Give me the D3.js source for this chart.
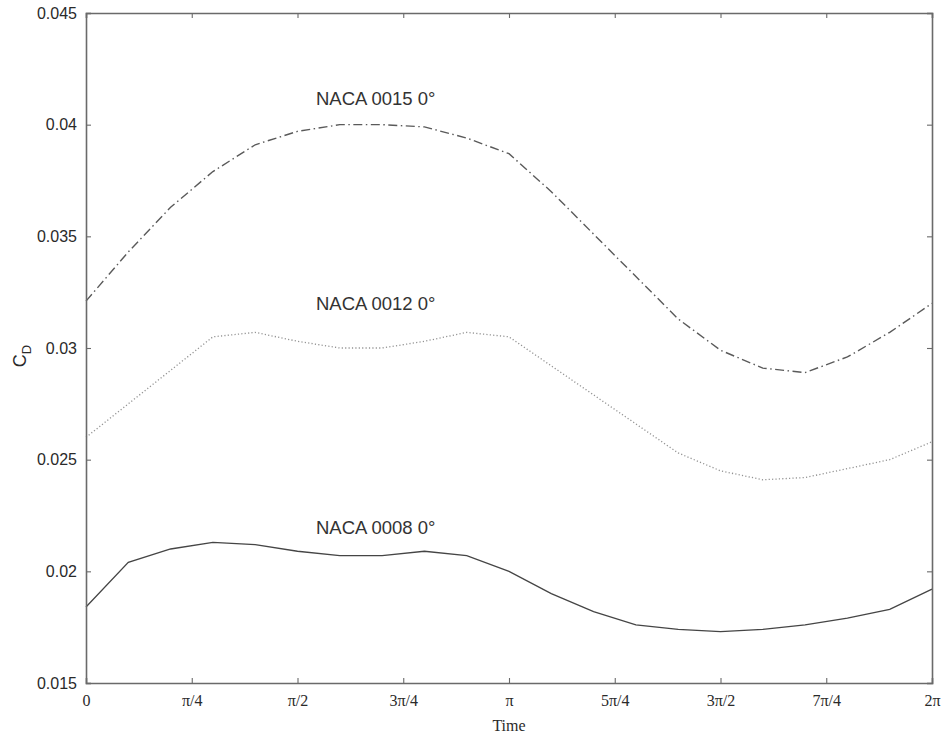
<!DOCTYPE html>
<html>
<head>
<meta charset="utf-8">
<script src="https://cdn.jsdelivr.net/npm/d3@7"></script>
<style>
  html, body { margin: 0; padding: 0; background: #fff; }
  svg { display: block; }
</style>
</head>
<body>
<svg id="chart" width="948" height="740"></svg>
<script>
// Phase samples, in multiples of pi (0 .. 2pi, step pi/10)
const phase = d3.range(21).map(k => k / 10);

// Drag coefficient over one oscillation period
const cd0015 = [0.0321, 0.0343, 0.0363, 0.0379, 0.0391, 0.0397, 0.0400, 0.0400, 0.0399, 0.0394,
                0.0387, 0.0370, 0.0351, 0.0332, 0.0313, 0.0299, 0.0291, 0.0289, 0.0296, 0.0307, 0.0320];
const cd0012 = [0.0260, 0.0275, 0.0290, 0.0305, 0.0307, 0.0303, 0.0300, 0.0300, 0.0303, 0.0307,
                0.0305, 0.0292, 0.0279, 0.0266, 0.0253, 0.0245, 0.0241, 0.0242, 0.0246, 0.0250, 0.0258];
const cd0008 = [0.0184, 0.0204, 0.0210, 0.0213, 0.0212, 0.0209, 0.0207, 0.0207, 0.0209, 0.0207,
                0.0200, 0.0190, 0.0182, 0.0176, 0.0174, 0.0173, 0.0174, 0.0176, 0.0179, 0.0183, 0.0192];

const seriesNames = ["NACA 0015 0°", "NACA 0012 0°", "NACA 0008 0°"];
// Annotation anchors (x in multiples of pi, y in C_D)
const labelX = [0.5437, 0.5437, 0.5437];
const labelY = [0.04088, 0.03170, 0.02167];

const xTickValues = [0, 0.25, 0.5, 0.75, 1, 1.25, 1.5, 1.75, 2];
const xTickLabels = ["0", "π/4", "π/2", "3π/4", "π", "5π/4", "3π/2", "7π/4", "2π"];
const yTickValues = [0.015, 0.02, 0.025, 0.03, 0.035, 0.04, 0.045];
const yTickLabels = ["0.015", "0.02", "0.025", "0.03", "0.035", "0.04", "0.045"];

const svg = d3.select("#chart");
const plotLeft = 86, plotRight = 932, plotTop = 13, plotBottom = 683;

const x = d3.scaleLinear().domain([0, 2]).range([plotLeft, plotRight]);
const y = d3.scaleLinear().domain([0.015, 0.045]).range([plotBottom, plotTop]);

const axisColor = "#6a6a6a";
const sansFont = "'Liberation Sans', Arial, sans-serif";
const serifFont = "'Liberation Serif', 'Times New Roman', serif";

// Curves
const styles = [
  { data: cd0015, stroke: "#5a5a5a", width: 1.4, dash: "9,3.5,1.5,3.5" },
  { data: cd0012, stroke: "#939393", width: 1.3, dash: "1.2,2.2" },
  { data: cd0008, stroke: "#454545", width: 1.3, dash: null }
];

const line = d3.line()
  .x((d, i) => x(phase[i]))
  .y(d => y(d));

styles.forEach(s => {
  svg.append("path")
    .datum(s.data)
    .attr("fill", "none")
    .attr("stroke", s.stroke)
    .attr("stroke-width", s.width)
    .attr("stroke-dasharray", s.dash)
    .attr("d", line);
});

// Series annotations
seriesNames.forEach((name, i) => {
  svg.append("text")
    .attr("x", x(labelX[i]))
    .attr("y", y(labelY[i]))
    .attr("font-family", sansFont)
    .attr("font-size", 18.5)
    .attr("fill", "#333")
    .text(name);
});

// Axes (ticks drawn inward, box all round)
const tickLen = 5;
const xAxisB = d3.axisBottom(x).tickValues(xTickValues).tickSize(-tickLen).tickPadding(12)
  .tickFormat((d, i) => xTickLabels[i]);
const xAxisT = d3.axisTop(x).tickValues(xTickValues).tickSize(-tickLen).tickFormat("");
const yAxisL = d3.axisLeft(y).tickValues(yTickValues).tickSize(-tickLen).tickPadding(9)
  .tickFormat((d, i) => yTickLabels[i]);
const yAxisR = d3.axisRight(y).tickValues(yTickValues).tickSize(-tickLen).tickFormat("");

function styleAxis(g) {
  g.select(".domain").attr("stroke", axisColor).attr("stroke-width", 1.6);
  g.selectAll(".tick line").attr("stroke", axisColor).attr("stroke-width", 1.1);
  g.selectAll(".tick text").attr("fill", "#2a2a2a").attr("font-family", sansFont).attr("font-size", 16);
}

svg.append("g").attr("transform", `translate(0,${plotBottom})`).call(xAxisB).call(styleAxis)
  .selectAll(".tick text").attr("font-family", serifFont).attr("font-size", 16);
svg.append("g").attr("transform", `translate(0,${plotTop})`).call(xAxisT).call(styleAxis);
svg.append("g").attr("transform", `translate(${plotLeft},0)`).call(yAxisL).call(styleAxis);
svg.append("g").attr("transform", `translate(${plotRight},0)`).call(yAxisR).call(styleAxis);

// Axis titles
svg.append("text")
  .attr("x", (plotLeft + plotRight) / 2)
  .attr("y", 731)
  .attr("text-anchor", "middle")
  .attr("font-family", serifFont)
  .attr("font-size", 16)
  .attr("fill", "#2a2a2a")
  .text("Time");

const yTitle = svg.append("text")
  .attr("transform", `translate(26,${(plotTop + plotBottom) / 2 + 8}) rotate(-90)`)
  .attr("text-anchor", "middle")
  .attr("font-family", sansFont)
  .attr("font-size", 18)
  .attr("fill", "#2a2a2a");
yTitle.append("tspan").text("C");
yTitle.append("tspan").attr("dy", 5).attr("font-size", 13).text("D");
</script>
</body>
</html>
